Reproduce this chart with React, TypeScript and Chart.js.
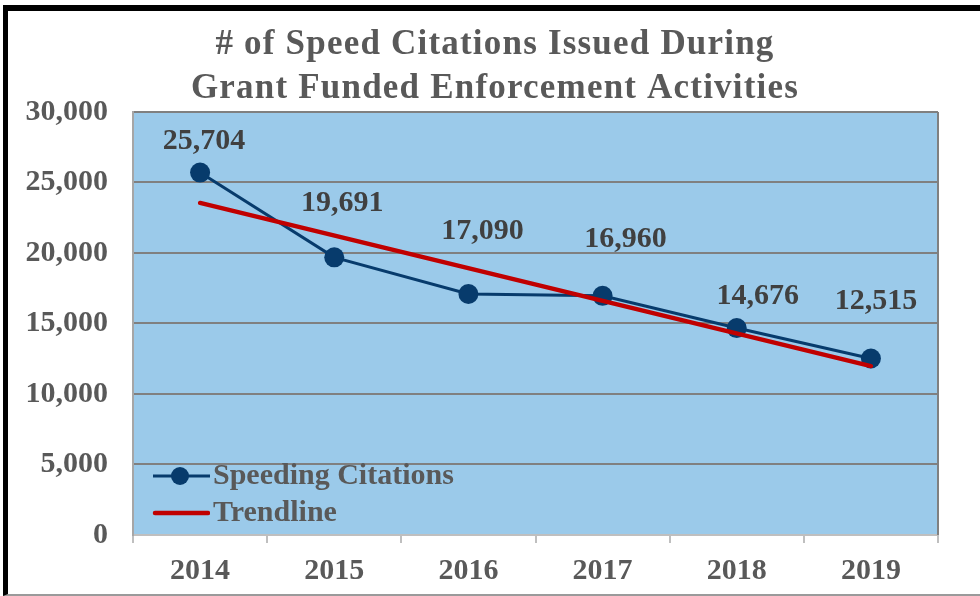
import React, { useEffect, useRef } from "react";
import { Chart, registerables } from "chart.js";

Chart.register(...registerables);

// ---- data ----
const years = ["2014", "2015", "2016", "2017", "2018", "2019"];
const citations = [25704, 19691, 17090, 16960, 14676, 12515];
// trendline read at its two ends (straight line between them)
const trendline: (number | null)[] = [23550, null, null, null, null, 11980];
const seriesNames = ["Speeding Citations", "Trendline"];
const titleLines = ["# of Speed Citations Issued During", "Grant Funded Enforcement Activities"];
const yMin = 0;
const yMax = 30000;
const yStep = 5000;

// ---- styling ----
const NAVY = "#073B6C";
const RED = "#C00000";
const PLOT_BG = "#9BCAEA";
const TEXT = "#595959";
const LABEL_TEXT = "#404040";
const FONT = "'Liberation Serif', 'Times New Roman', serif";
// label offsets (dx, dy) from each point, as placed in the reference
const labelShift: [number, number][] = [
  [4, -31],
  [8, -54],
  [14, -63],
  [23, -57],
  [21, -32],
  [5, -57],
];

const fmt = (v: number) => Number(v).toLocaleString("en-US");

export default function App() {
  const ref = useRef<HTMLCanvasElement>(null);

  useEffect(() => {
    const canvas = ref.current;
    if (!canvas) return;

    const mkIcon = (draw: (g: CanvasRenderingContext2D) => void) => {
      const c = document.createElement("canvas");
      c.width = 82;
      c.height = 24;
      const g = c.getContext("2d")!;
      draw(g);
      return c;
    };
    const citIcon = mkIcon((g) => {
      g.strokeStyle = NAVY;
      g.lineWidth = 3;
      g.beginPath();
      g.moveTo(25, 12);
      g.lineTo(82, 12);
      g.stroke();
      g.fillStyle = NAVY;
      g.beginPath();
      g.arc(52, 12, 9, 0, Math.PI * 2);
      g.fill();
    });
    const trendIcon = mkIcon((g) => {
      g.strokeStyle = RED;
      g.lineWidth = 4.5;
      g.lineCap = "round";
      g.beginPath();
      g.moveTo(27, 12);
      g.lineTo(80, 12);
      g.stroke();
    });

    const plotBg = {
      id: "plotBg",
      afterLayout(chart: any) {
        const lg = chart.legend;
        const a = chart.chartArea;
        if (lg && a) {
          lg.top = a.top;
          lg.bottom = a.bottom;
          lg.left = a.left;
          lg.right = a.right;
        }
      },
      beforeDraw(chart: any) {
        const { ctx, chartArea: a } = chart;
        ctx.save();
        ctx.fillStyle = PLOT_BG;
        ctx.fillRect(a.left, a.top, a.right - a.left, a.bottom - a.top);
        ctx.restore();
        const tb = chart.titleBlock;
        if (tb && !tb.__spaced) {
          const orig = tb.draw.bind(tb);
          tb.draw = (...args: any[]) => {
            const c = chart.ctx as any;
            c.save();
            c.letterSpacing = "1.2px";
            orig(...args);
            c.restore();
          };
          tb.__spaced = true;
        }
      },
      beforeDatasetsDraw(chart: any) {
        const { ctx, chartArea: a } = chart;
        ctx.save();
        ctx.strokeStyle = "#808080";
        ctx.lineWidth = 2;
        ctx.beginPath();
        ctx.moveTo(a.right, a.top);
        ctx.lineTo(a.right, a.bottom);
        ctx.stroke();
        ctx.restore();
      },
    };

    const valueLabels = {
      id: "valueLabels",
      afterDatasetsDraw(chart: any) {
        const meta = chart.getDatasetMeta(0);
        const ctx = chart.ctx;
        ctx.save();
        ctx.font = `bold 30px ${FONT}`;
        ctx.fillStyle = LABEL_TEXT;
        ctx.textAlign = "center";
        ctx.textBaseline = "middle";
        meta.data.forEach((pt: any, i: number) => {
          const [dx, dy] = labelShift[i];
          ctx.fillText(fmt(citations[i]), pt.x + dx, pt.y + dy);
        });
        ctx.restore();
      },
    };

    const chart = new Chart(canvas, {
      type: "line",
      data: {
        labels: years,
        datasets: [
          {
            label: seriesNames[0],
            data: citations,
            borderColor: NAVY,
            backgroundColor: NAVY,
            borderWidth: 3,
            pointRadius: 10,
            pointHoverRadius: 10,
            pointBackgroundColor: NAVY,
            pointBorderColor: NAVY,
            pointBorderWidth: 0,
            tension: 0,
            order: 1,
          },
          {
            label: seriesNames[1],
            data: trendline,
            borderColor: RED,
            backgroundColor: RED,
            borderWidth: 4.5,
            borderCapStyle: "round",
            pointRadius: 0,
            pointHoverRadius: 0,
            spanGaps: true,
            tension: 0,
            order: 0,
          },
        ],
      },
      options: {
        responsive: false,
        animation: false,
        events: [],
        layout: { padding: { left: 10, right: 0, top: 0, bottom: 0 } },
        scales: {
          x: {
            type: "category",
            offset: true,
            grid: {
              offset: true,
              drawOnChartArea: false,
              drawTicks: true,
              tickLength: 8,
              color: "#BFBFBF",
              lineWidth: 2,
            },
            border: { display: true, color: "#BFBFBF", width: 2 },
            ticks: {
              font: { family: FONT, size: 30, weight: "bold" },
              color: TEXT,
              padding: 10,
              maxRotation: 0,
              autoSkip: false,
            },
            afterFit: (s: any) => {
              s.height = 61;
            },
          },
          y: {
            type: "linear",
            position: "left",
            min: yMin,
            max: yMax,
            ticks: {
              stepSize: yStep,
              callback: (v: any) => fmt(Number(v)),
              font: { family: FONT, size: 30, weight: "bold" },
              color: TEXT,
              padding: 25,
            },
            grid: {
              color: (c: any) => (c.tick && c.tick.value === 0 ? "rgba(0,0,0,0)" : "#808080"),
              lineWidth: 2,
              drawTicks: false,
            },
            border: { display: true, color: "#A6A6A6", width: 2 },
            afterFit: (s: any) => {
              s.width = 123;
            },
          },
          yRight: {
            type: "linear",
            position: "right",
            display: true,
            min: 0,
            max: 1,
            grid: { drawOnChartArea: false, drawTicks: false, display: false },
            border: { display: false },
            ticks: { display: false },
            afterFit: (s: any) => {
              s.width = 42;
            },
          },
        },
        plugins: {
          title: {
            display: true,
            text: titleLines,
            color: TEXT,
            font: { family: FONT, size: 35, weight: "bold", lineHeight: 1.257 },
            padding: { top: 23, bottom: 1 },
          },
          legend: {
            display: true,
            position: "chartArea",
            align: "end",
            labels: {
              usePointStyle: true,
              pointStyleWidth: 58,
              padding: 7,
              color: TEXT,
              font: { family: FONT, size: 30, weight: "bold" },
              generateLabels: () => [
                {
                  text: seriesNames[0],
                  pointStyle: citIcon,
                  fillStyle: NAVY,
                  strokeStyle: NAVY,
                  lineWidth: 0,
                  hidden: false,
                  datasetIndex: 0,
                  fontColor: TEXT,
                },
                {
                  text: seriesNames[1],
                  pointStyle: trendIcon,
                  fillStyle: RED,
                  strokeStyle: RED,
                  lineWidth: 0,
                  hidden: false,
                  datasetIndex: 1,
                  fontColor: TEXT,
                },
              ],
            },
          },
          tooltip: { enabled: false },
        },
      } as any,
      plugins: [plotBg, valueLabels],
    });

    return () => chart.destroy();
  }, []);

  return (
    <div
      style={{
        position: "fixed",
        left: 0,
        top: 0,
        width: 980,
        height: 596,
        background: "#fff",
        overflow: "hidden",
      }}
    >
      <canvas ref={ref} width={980} height={596} style={{ position: "absolute", left: 0, top: 0 }} />
      <div
        style={{
          position: "absolute",
          left: 3,
          top: 5,
          width: 977,
          height: 591,
          boxSizing: "border-box",
          borderTop: "6px solid #000",
          borderLeft: "5px solid #000",
          borderBottom: "2px solid #9A9A9A",
          pointerEvents: "none",
        }}
      />
    </div>
  );
}
